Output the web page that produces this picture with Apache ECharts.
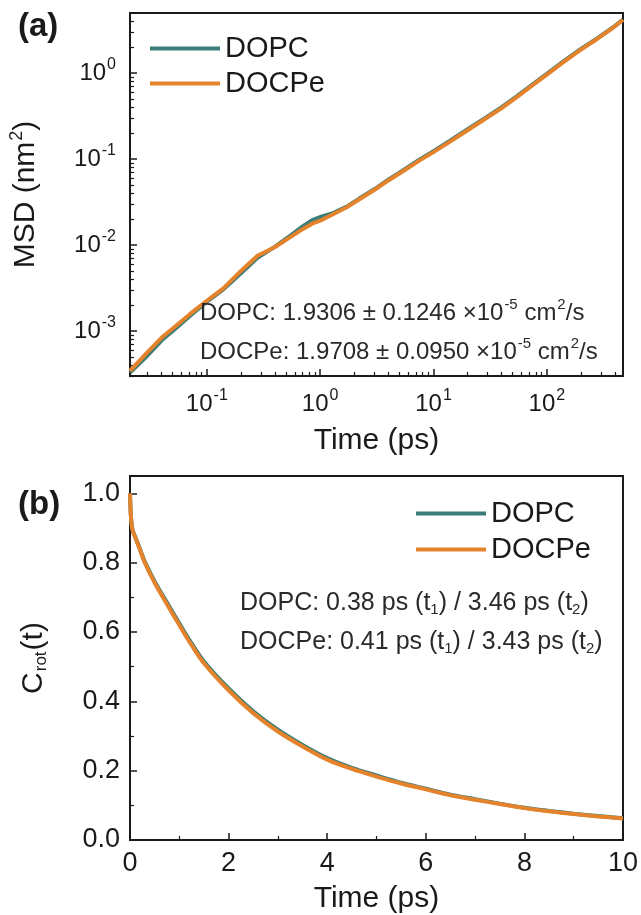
<!DOCTYPE html>
<html>
<head>
<meta charset="utf-8">
<title>MSD and rotational correlation</title>
<script src="https://cdn.jsdelivr.net/npm/echarts@6/dist/echarts.min.js"></script>
<style>
  html, body { margin: 0; padding: 0; background: #fff; }
  #chart { width: 641px; height: 915px; }
</style>
</head>
<body>
<div id="chart"></div>
<script type="text/javascript">
// (a) MSD vs time, log-log
var msdTime = [0.021, 0.03, 0.04, 0.05, 0.07, 0.1, 0.14, 0.2, 0.28, 0.4, 0.55, 0.7, 0.85, 1.0, 1.3, 1.7, 2.2, 3, 4, 5.5, 7.5, 10, 14, 20, 28, 40, 55, 75, 100, 140, 200, 280, 380, 470];
var msdDOPC = [3.3e-4, 5.2e-4, 7.8e-4, 1.0e-3, 1.48e-3, 2.2e-3, 3.05e-3, 4.7e-3, 7.1e-3, 9.6e-3, 0.013, 0.0165, 0.0195, 0.0212, 0.0235, 0.0278, 0.0345, 0.0445, 0.0575, 0.0755, 0.0985, 0.1235, 0.164, 0.222, 0.296, 0.401, 0.543, 0.738, 0.98, 1.37, 1.91, 2.55, 3.37, 4.2];
var msdDOCPe = [3.45e-4, 5.7e-4, 8.4e-4, 1.07e-3, 1.55e-3, 2.25e-3, 3.14e-3, 5.0e-3, 7.5e-3, 9.5e-3, 0.01245, 0.0153, 0.0177, 0.0192, 0.0228, 0.0273, 0.0339, 0.0437, 0.0564, 0.0736, 0.0959, 0.1205, 0.1595, 0.2163, 0.289, 0.392, 0.531, 0.723, 0.961, 1.34, 1.875, 2.51, 3.33, 4.17];

// (b) rotational correlation vs time
var rotTime = [0, 0.02, 0.05, 0.1, 0.2, 0.3, 0.5, 0.75, 1.0, 1.25, 1.5, 2.0, 2.5, 3.0, 3.5, 4.0, 4.5, 5.0, 5.5, 6.0, 6.5, 7.0, 7.5, 8.0, 8.5, 9.0, 9.5, 10];
var rotDOPC = [1.0, 0.93, 0.896, 0.876, 0.84, 0.803, 0.746, 0.685, 0.625, 0.567, 0.515, 0.437, 0.371, 0.318, 0.274, 0.236, 0.208, 0.186, 0.165, 0.148, 0.131, 0.118, 0.105, 0.093, 0.084, 0.076, 0.069, 0.063];
var rotDOCPe = [1.0, 0.93, 0.895, 0.875, 0.838, 0.80, 0.742, 0.68, 0.62, 0.562, 0.51, 0.432, 0.366, 0.313, 0.270, 0.232, 0.205, 0.183, 0.163, 0.146, 0.129, 0.116, 0.104, 0.092, 0.083, 0.075, 0.068, 0.062];

// axis ranges
var msdXRange = [0.021, 470];
var msdYRange = [3e-4, 5];

var seriesNames = ['DOPC', 'DOCPe'];
var colors = ['#3b7d78', '#e4832c'];

function pairs(xs, ys) {
  return xs.map(function (x, i) { return [x, ys[i]]; });
}

// minor ticks of a log axis (2..9 of every decade), in log10 units for an overlay value axis
function logMinorTicks(range) {
  var out = [];
  var lo = Math.floor(Math.log10(range[0])), hi = Math.ceil(Math.log10(range[1]));
  for (var d = lo; d < hi; d++) {
    for (var m = 2; m <= 9; m++) {
      var v = m * Math.pow(10, d);
      if (v > range[0] && v < range[1]) out.push(Math.log10(v));
    }
  }
  return out;
}

var FONT = '"Liberation Sans", Arial, sans-serif';
var INK = '#1a1a1a';
var richTick = {
  sup: { fontSize: 16, fontFamily: FONT, color: INK, padding: [0, 0, 17, 1] }
};
var richTitle = {
  sup: { fontSize: 18, fontFamily: FONT, color: INK, padding: [0, 0, 18, 1] },
  sub: { fontSize: 17, fontFamily: FONT, color: INK, padding: [16, 1, 0, 1] }
};
var richNote = {
  sup: { fontSize: 15, fontFamily: FONT, color: '#2a2a2a', padding: [0, 0, 16, 1] },
  sub: { fontSize: 15, fontFamily: FONT, color: '#2a2a2a', padding: [14, 0, 0, 0] }
};
function powLabel(v) {
  var e = Math.round(Math.log10(v));
  return '10{sup|' + e + '}';
}

var axisCommon = {
  axisLine: { show: true, onZero: false, lineStyle: { color: INK, width: 2 } },
  axisTick: { show: true, inside: true, length: 7, lineStyle: { color: INK, width: 1.5 } },
  minorTick: { show: false, length: 4, lineStyle: { color: INK, width: 1.2 } },
  splitLine: { show: false },
  axisLabel: { color: INK, fontSize: 24, fontFamily: FONT, rich: richTick, showMinLabel: false, showMaxLabel: false },
  nameTextStyle: { color: INK, fontSize: 30, fontFamily: FONT, rich: richTitle }
};

function axis(extra) {
  var a = JSON.parse(JSON.stringify(axisCommon));
  for (var k in extra) {
    if (typeof extra[k] === 'object' && a[k] && !Array.isArray(extra[k])) {
      for (var kk in extra[k]) a[k][kk] = extra[k][kk];
    } else {
      a[k] = extra[k];
    }
  }
  return a;
}

// hidden value axis laid over a log axis, only to draw its 2..9 minor ticks
function minorOverlay(gridIndex, range, position) {
  return {
    type: 'value', gridIndex: gridIndex, position: position,
    min: Math.log10(range[0]), max: Math.log10(range[1]),
    axisLine: { show: false, onZero: false }, axisLabel: { show: false }, splitLine: { show: false },
    axisTick: { show: true, inside: true, length: 4, customValues: logMinorTicks(range),
      lineStyle: { color: INK, width: 1.2 } }
  };
}

var chart = echarts.init(document.getElementById('chart'), null, { renderer: 'canvas' });

var option = {
  backgroundColor: '#fff',
  animation: false,
  grid: [
    { left: 130, top: 13, width: 493, height: 363, show: true, borderColor: INK, borderWidth: 2 },
    { left: 130, top: 476, width: 493, height: 364, show: true, borderColor: INK, borderWidth: 2 }
  ],
  xAxis: [
    axis({
      type: 'log', gridIndex: 0, position: 'bottom', min: msdXRange[0], max: msdXRange[1], logBase: 10,
      axisLabel: { formatter: powLabel, margin: 12 },
      name: 'Time (ps)', nameLocation: 'middle', nameGap: 50
    }),
    axis({
      type: 'value', gridIndex: 1, position: 'bottom', min: 0, max: 10, interval: 2,
      minorTick: { show: true, splitNumber: 2 },
      axisLabel: { margin: 10, fontSize: 27, showMinLabel: true, showMaxLabel: true },
      name: 'Time (ps)', nameLocation: 'middle', nameGap: 44
    }),
    minorOverlay(0, msdXRange, 'bottom')
  ],
  yAxis: [
    axis({
      type: 'log', gridIndex: 0, position: 'left', min: msdYRange[0], max: msdYRange[1], logBase: 10,
      axisLabel: { formatter: powLabel, margin: 14 },
      name: 'MSD (nm{sup|2})', nameLocation: 'middle', nameGap: 86, nameRotate: 90
    }),
    axis({
      type: 'value', gridIndex: 1, position: 'left', min: 0, max: 1.05, interval: 0.2,
      minorTick: { show: true, splitNumber: 2 },
      axisLabel: { margin: 10, fontSize: 27, showMinLabel: true, formatter: function (v) { return v.toFixed(1); } },
      name: 'C{sub|rot}(t)', nameLocation: 'middle', nameGap: 80, nameRotate: 90
    }),
    minorOverlay(0, msdYRange, 'left')
  ],
  legend: [
    {
      data: seriesNames, orient: 'vertical', left: 145, top: 29, icon: 'rect',
      itemWidth: 70, itemHeight: 4, itemGap: 6,
      textStyle: { fontSize: 29, fontFamily: FONT, color: INK }
    },
    {
      data: seriesNames, orient: 'vertical', left: 411, top: 494, icon: 'rect',
      itemWidth: 70, itemHeight: 4, itemGap: 7,
      textStyle: { fontSize: 29, fontFamily: FONT, color: INK }
    }
  ],
  series: [
    { name: 'DOPC', type: 'line', xAxisIndex: 0, yAxisIndex: 0, showSymbol: false,
      lineStyle: { width: 4, color: colors[0] }, itemStyle: { color: colors[0] }, z: 2,
      data: pairs(msdTime, msdDOPC) },
    { name: 'DOCPe', type: 'line', xAxisIndex: 0, yAxisIndex: 0, showSymbol: false,
      lineStyle: { width: 4, color: colors[1] }, itemStyle: { color: colors[1] }, z: 3,
      data: pairs(msdTime, msdDOCPe) },
    { name: 'DOPC', type: 'line', xAxisIndex: 1, yAxisIndex: 1, showSymbol: false, smooth: 0.3,
      lineStyle: { width: 4, color: colors[0] }, itemStyle: { color: colors[0] }, z: 2,
      data: pairs(rotTime, rotDOPC) },
    { name: 'DOCPe', type: 'line', xAxisIndex: 1, yAxisIndex: 1, showSymbol: false, smooth: 0.3,
      lineStyle: { width: 4, color: colors[1] }, itemStyle: { color: colors[1] }, z: 3,
      data: pairs(rotTime, rotDOCPe) }
  ],
  graphic: [
    { type: 'text', left: 18, top: 10, style: { text: '(a)', fontSize: 33, fontWeight: 'bold', fontFamily: FONT, fill: INK } },
    { type: 'text', left: 18, top: 488, style: { text: '(b)', fontSize: 33, fontWeight: 'bold', fontFamily: FONT, fill: INK } },
    { type: 'text', x: 200, y: 313, z: 10, style: {
        text: 'DOPC: 1.9306 ± 0.1246 ×10{sup|-5} cm{sup|2}/s', verticalAlign: 'middle',
        fontSize: 24, fontFamily: FONT, fill: '#2a2a2a', rich: richNote } },
    { type: 'text', x: 200, y: 352, z: 10, style: {
        text: 'DOCPe: 1.9708 ± 0.0950 ×10{sup|-5} cm{sup|2}/s', verticalAlign: 'middle',
        fontSize: 24, fontFamily: FONT, fill: '#2a2a2a', rich: richNote } },
    { type: 'text', x: 240, y: 603, z: 10, style: {
        text: 'DOPC: 0.38 ps (t{sub|1}) / 3.46 ps (t{sub|2})', verticalAlign: 'middle',
        fontSize: 25, fontFamily: FONT, fill: '#2a2a2a', rich: richNote } },
    { type: 'text', x: 240, y: 642, z: 10, style: {
        text: 'DOCPe: 0.41 ps (t{sub|1}) / 3.43 ps (t{sub|2})', verticalAlign: 'middle',
        fontSize: 25, fontFamily: FONT, fill: '#2a2a2a', rich: richNote } }
  ]
};

chart.setOption(option);
</script>
</body>
</html>
